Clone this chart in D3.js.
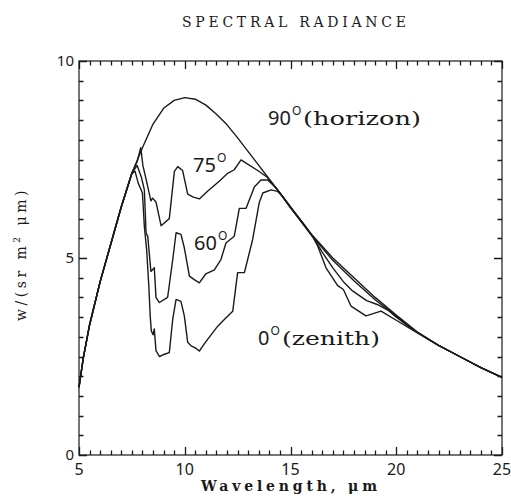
<!DOCTYPE html>
<html><head><meta charset="utf-8">
<script src="https://cdn.jsdelivr.net/npm/d3@7"></script>
<style>body{margin:0;background:#fff}svg{display:block}</style>
</head><body>
<svg id="chart" width="511" height="496"></svg>
<script>
// ---- data ----
const wl90 = [5, 5.2, 5.5, 6, 6.5, 7, 7.5, 8, 8.5, 9, 9.5, 10, 10.5, 11, 11.5, 12, 12.5, 13, 13.5, 14, 14.5, 15, 16, 17, 18, 19, 20, 21, 22, 23, 24, 25];
const v90  = [1.72, 2.45, 3.3, 4.4, 5.35, 6.3, 7.15, 7.8, 8.4, 8.8, 9.0, 9.07, 9.03, 8.88, 8.65, 8.38, 8.05, 7.7, 7.35, 7.0, 6.65, 6.3, 5.6, 5.0, 4.5, 4.0, 3.55, 3.12, 2.78, 2.5, 2.22, 1.97];

const wl75 = [5, 5.2, 5.5, 6, 6.5, 7, 7.5, 7.75, 7.92, 8.02, 8.17, 8.4, 8.48, 8.64, 8.88, 9.27, 9.51, 9.67, 9.9, 10.14, 10.38, 10.69, 11.09, 11.63, 12.03, 12.34, 12.66, 12.9, 13.45, 13.9, 14.5, 15, 16, 17, 18, 19, 20, 20.5, 21, 22, 23, 24, 25];
const v75  = [1.72, 2.45, 3.3, 4.4, 5.35, 6.3, 7.15, 7.45, 7.8, 7.35, 7.0, 6.45, 6.52, 6.42, 5.82, 6.0, 7.2, 7.32, 7.22, 6.62, 6.55, 6.5, 6.7, 6.95, 7.15, 7.24, 7.49, 7.41, 7.22, 7.05, 6.65, 6.28, 5.57, 4.94, 4.42, 3.94, 3.52, 3.31, 3.11, 2.78, 2.5, 2.22, 1.97];

const wl60 = [5, 5.2, 5.5, 6, 6.5, 7, 7.5, 7.75, 7.95, 8.09, 8.17, 8.25, 8.4, 8.56, 8.64, 8.8, 9.19, 9.43, 9.59, 9.82, 9.98, 10.22, 10.45, 10.69, 11.0, 11.4, 11.71, 11.95, 12.34, 12.58, 12.9, 13.29, 13.6, 13.92, 14.31, 14.6, 15, 16, 16.5, 17, 17.5, 17.9, 18.6, 19.1, 19.6, 20, 20.5, 21, 22, 23, 24, 25];
const v60  = [1.72, 2.45, 3.3, 4.4, 5.35, 6.3, 7.15, 7.35, 7.05, 6.73, 5.64, 5.55, 4.66, 4.75, 4.0, 3.87, 4.0, 4.95, 5.64, 5.6, 5.26, 4.54, 4.45, 4.37, 4.6, 4.7, 4.96, 5.38, 5.55, 6.26, 6.26, 6.8, 6.98, 6.98, 6.78, 6.58, 6.28, 5.58, 5.15, 4.75, 4.4, 4.18, 3.92, 3.82, 3.68, 3.5, 3.3, 3.11, 2.78, 2.5, 2.22, 1.97];

const wl0 = [5, 5.2, 5.5, 6, 6.5, 7, 7.5, 7.65, 7.8, 8.0, 8.09, 8.2, 8.3, 8.37, 8.42, 8.5, 8.56, 8.64, 8.8, 9.0, 9.27, 9.43, 9.59, 9.82, 9.98, 10.14, 10.3, 10.5, 10.69, 10.9, 11.09, 11.56, 11.87, 12.27, 12.5, 12.82, 13.21, 13.52, 13.69, 14.08, 14.39, 14.6, 15, 15.5, 16.05, 16.29, 16.68, 17.23, 17.5, 17.86, 18.57, 19.28, 20.0, 20.84, 21, 22, 23, 24, 25];
const v0  = [1.72, 2.45, 3.3, 4.4, 5.35, 6.3, 7.15, 7.2, 6.9, 6.65, 5.8, 5.2, 4.3, 3.5, 3.15, 3.05, 3.2, 2.65, 2.5, 2.55, 2.6, 3.44, 3.95, 3.9, 3.53, 2.86, 2.77, 2.72, 2.64, 2.8, 2.94, 3.27, 3.44, 3.65, 4.63, 4.63, 5.47, 6.4, 6.65, 6.73, 6.69, 6.58, 6.28, 5.95, 5.55, 5.3, 4.75, 4.3, 4.2, 3.78, 3.53, 3.65, 3.42, 3.15, 3.1, 2.78, 2.5, 2.22, 1.97];

const xMajorTicks = [5, 10, 15, 20, 25];
const yMajorTicks = [0, 5, 10];
const titleText = "SPECTRAL RADIANCE";
const xTitle = "Wavelength, \u03bcm";

// ---- layout ----
const svg = d3.select("#chart");
const L = 79, R = 502, T = 61, B = 455;
const x = d3.scaleLinear().domain([5, 25]).range([L, R]);
const y = d3.scaleLinear().domain([0, 10]).range([B, T]);
const ink = "#1a1a1a";
const sans = "'Noto Sans', 'DejaVu Sans', sans-serif";
const serif = "'DejaVu Serif', 'Liberation Serif', serif";

// frame
svg.append("rect").attr("x", L).attr("y", T).attr("width", R - L).attr("height", B - T)
  .attr("fill", "none").attr("stroke", ink).attr("stroke-width", 1.2);

// ticks (inward on all four sides), one path built from the scales
const xMinor = d3.range(5, 25.001, 0.5);
const yMinor = d3.range(0, 10.001, 0.5);
const isMajX = d => xMajorTicks.some(m => Math.abs(m - d) < 1e-6);
const isMajY = d => yMajorTicks.some(m => Math.abs(m - d) < 1e-6);
const tl = d => (d ? 8 : 4.5);
let tickD = "";
xMinor.forEach(d => {
  const xx = Math.round(x(d)) + 0.5, h = tl(isMajX(d));
  tickD += `M${xx},${B}V${B - h}M${xx},${T}V${T + h}`;
});
yMinor.forEach(d => {
  const yy = Math.round(y(d)) + 0.5, w = tl(isMajY(d));
  tickD += `M${L},${yy}H${L + w}M${R},${yy}H${R - w}`;
});
svg.append("path").attr("d", tickD).attr("fill", "none").attr("stroke", ink).attr("stroke-width", 1.3);

// tick labels
svg.append("g").selectAll("text").data(xMajorTicks).join("text")
  .attr("x", d => x(d)).attr("y", 475).attr("text-anchor", "middle")
  .attr("font-family", sans).attr("font-size", 16).attr("fill", ink).text(d => d);
svg.append("g").selectAll("text").data(yMajorTicks).join("text")
  .attr("x", 74).attr("y", d => y(d) + 5).attr("text-anchor", "end")
  .attr("font-family", sans).attr("font-size", 15).attr("fill", ink).text(d => d);

// titles
svg.append("text").attr("x", 294).attr("y", 27).attr("text-anchor", "middle")
  .attr("font-family", serif).attr("font-size", 14).attr("fill", ink)
  .attr("textLength", 224).attr("lengthAdjust", "spacing").text(titleText);
svg.append("text").attr("x", 289).attr("y", 491).attr("text-anchor", "middle")
  .attr("font-family", serif).attr("font-size", 14).attr("font-weight", "bold").attr("fill", ink)
  .attr("textLength", 176).attr("lengthAdjust", "spacing").text(xTitle);
const yt = svg.append("text").attr("transform", "translate(26,254) rotate(-90)")
  .attr("text-anchor", "middle").attr("font-family", serif).attr("font-size", 14)
  .attr("letter-spacing", 3.5).attr("fill", ink);
yt.append("tspan").text("w/(sr m");
yt.append("tspan").attr("font-size", 9).attr("dy", -6).text("2");
yt.append("tspan").attr("dy", 6).text(" \u03bcm)");

// curves
const series = [[wl90, v90], [wl75, v75], [wl60, v60], [wl0, v0]];
const line = d3.line().x(d => x(d[0])).y(d => y(d[1]));
svg.append("g").selectAll("path").data(series).join("path")
  .attr("d", s => line(d3.zip(s[0], s[1])))
  .attr("fill", "none").attr("stroke", ink).attr("stroke-width", 1.4).attr("stroke-linejoin", "round");

// curve labels
function label(lx, ly, num, word, wordX, wordLen) {
  const t = svg.append("text").attr("x", lx).attr("y", ly).attr("fill", ink).attr("font-family", sans).attr("font-size", 20);
  t.append("tspan").text(num);
  t.append("tspan").attr("font-size", 12).attr("dy", -10).attr("dx", 1).text("O");
  if (word) svg.append("text").attr("x", wordX).attr("y", ly).attr("fill", ink)
    .attr("font-family", serif).attr("font-size", 19)
    .attr("textLength", wordLen).attr("lengthAdjust", "spacingAndGlyphs").text(word);
}
label(268, 125, "90", "(horizon)", 303, 118);
label(193, 172, "75", null);
label(194, 250, "60", null);
label(258, 345, "0", "(zenith)", 282, 98);
</script>
</body></html>
